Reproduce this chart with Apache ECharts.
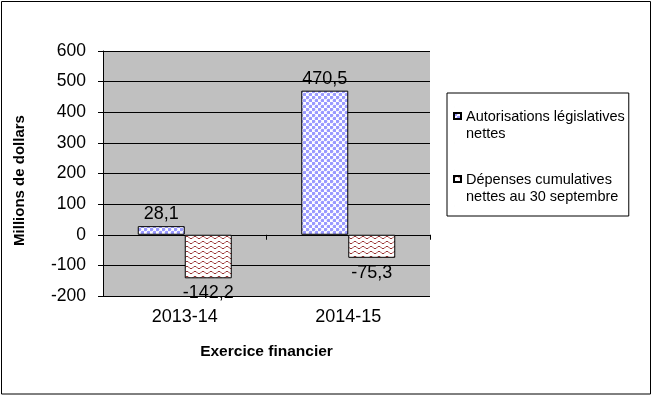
<!DOCTYPE html>
<html>
<head>
<meta charset="utf-8">
<script src="https://cdn.jsdelivr.net/npm/echarts@6/dist/echarts.min.js"></script>
<style>
  html, body { margin: 0; padding: 0; background: #fff; }
  #chart { width: 652px; height: 397px; }
</style>
</head>
<body>
<div id="chart"></div>
<script>
const categories = ['2013-14', '2014-15'];
const seriesNames = ['Autorisations législatives\nnettes', 'Dépenses cumulatives\nnettes au 30 septembre'];
const authorizations = [28.1, 470.5];
const expenditures = [-142.2, -75.3];
const yTicks = { min: -200, max: 600, interval: 100 };

// fill patterns drawn on small canvases
function dotPattern() {
  const c = document.createElement('canvas');
  c.width = 6; c.height = 6;
  const ctx = c.getContext('2d');
  ctx.fillStyle = '#ffffff';
  ctx.fillRect(0, 0, 6, 6);
  ctx.fillStyle = '#9999ff';
  [[1.5, 1.5], [4.5, 4.5]].forEach(p => {
    ctx.beginPath();
    ctx.arc(p[0], p[1], 1.8, 0, Math.PI * 2);
    ctx.fill();
  });
  return c;
}

function wavePattern() {
  const c = document.createElement('canvas');
  c.width = 8; c.height = 5;
  const ctx = c.getContext('2d');
  ctx.fillStyle = '#ffffff';
  ctx.fillRect(0, 0, 8, 5);
  ctx.strokeStyle = '#993333';
  ctx.lineWidth = 1;
  ctx.beginPath();
  ctx.moveTo(0, 3.5);
  ctx.lineTo(2, 1.5);
  ctx.lineTo(4, 1.5);
  ctx.lineTo(6, 3.5);
  ctx.lineTo(8, 3.5);
  ctx.stroke();
  return c;
}

const fills = [
  { image: dotPattern(), repeat: 'repeat' },
  { image: wavePattern(), repeat: 'repeat' }
];

function labelled(values) {
  return values.map(v => ({
    value: v,
    label: { position: v < 0 ? 'bottom' : 'top', distance: v < 0 ? 6 : 3 }
  }));
}

const font = 'Arial, "Liberation Sans", sans-serif';
const legendIcon = 'path://M0,0l0.01,0M0,6h7v6h-7zM0,36l0.01,0';

const chart = echarts.init(document.getElementById('chart'));
chart.setOption({
  animation: false,
  backgroundColor: '#ffffff',
  textStyle: { fontFamily: font, color: '#000' },
  graphic: [{
    type: 'rect',
    shape: { x: 1.5, y: 1.5, width: 649, height: 392.5 },
    style: { fill: 'none', stroke: '#000', lineWidth: 1 },
    silent: true
  }],
  legend: {
    orient: 'vertical',
    left: 447,
    top: 93,
    padding: [13, 4, 9, 6],
    itemGap: 25,
    itemWidth: 7,
    itemHeight: 36,
    icon: legendIcon,
    borderColor: '#000',
    borderWidth: 1,
    textStyle: { fontSize: 14.5, lineHeight: 17, color: '#000', fontFamily: font },
    data: seriesNames
  },
  grid: {
    left: 103, right: 222, top: 51, bottom: 101,
    show: true, backgroundColor: '#c0c0c0', borderWidth: 0
  },
  xAxis: [{
    type: 'category',
    data: categories,
    position: 'bottom',
    axisLine: { onZero: false, show: false },
    axisTick: { show: false },
    axisLabel: { fontSize: 18, color: '#000', margin: 12, fontFamily: font },
    name: 'Exercice financier',
    nameLocation: 'middle',
    nameGap: 48,
    nameTextStyle: { fontSize: 15.5, fontWeight: 'bold', color: '#000', fontFamily: font }
  }, {
    type: 'category',
    data: categories,
    position: 'bottom',
    axisLine: { onZero: true, lineStyle: { color: '#000', width: 1 } },
    axisTick: { show: true, length: 5, inside: false, lineStyle: { color: '#000' } },
    axisLabel: { show: false }
  }],
  yAxis: {
    type: 'value',
    min: yTicks.min,
    max: yTicks.max,
    interval: yTicks.interval,
    axisLine: { show: true, lineStyle: { color: '#000', width: 1 } },
    axisTick: { show: true, length: 5, lineStyle: { color: '#000' } },
    axisLabel: { fontSize: 17.5, color: '#000', margin: 17, fontFamily: font },
    splitLine: { show: true, lineStyle: { color: '#000', width: 1 } },
    name: 'Millions de dollars',
    nameLocation: 'middle',
    nameRotate: 90,
    nameGap: 76,
    nameTextStyle: {
      fontSize: 15, fontWeight: 'bold', color: '#000', fontFamily: font,
      padding: [0, 14, 0, 0]
    }
  },
  series: [authorizations, expenditures].map((vals, i) => ({
    name: seriesNames[i],
    type: 'bar',
    xAxisIndex: 0,
    barWidth: 47,
    barGap: '0%',
    data: labelled(vals),
    itemStyle: { color: fills[i], borderColor: '#000', borderWidth: 1 },
    label: {
      show: true,
      fontSize: 18,
      color: '#000',
      fontFamily: font,
      formatter: p => String(p.value).replace('.', ',')
    }
  }))
});
</script>
</body>
</html>
